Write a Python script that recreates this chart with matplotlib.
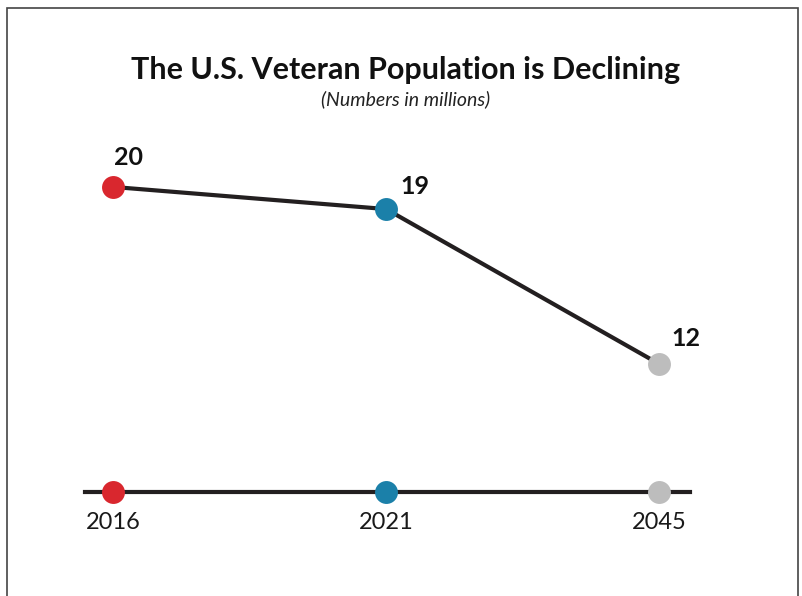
import matplotlib
matplotlib.use("Agg")
import matplotlib.pyplot as plt
from matplotlib.patches import Rectangle

plt.rcParams['font.family'] = ['Lato', 'DejaVu Sans']

years = ["2016", "2021", "2045"]
veterans_millions = [20, 19, 12]
point_colors = ["#d9272e", "#1b80a9", "#bdbdbd"]
LINE_COLOR = "#231f20"

# value label offsets in points (dx, dy)
label_offsets = [(11, 21), (21, 16), (19, 18)]

TIMELINE_Y = 6.2

fig = plt.figure(figsize=(8.03, 5.96), dpi=100)
ax = fig.add_axes([0, 0, 1, 1])
ax.set_xlim(-0.414, 2.527)
ax.set_ylim(1.51, 28.45)
ax.axis("off")

xs = list(range(len(years)))

# trend line with coloured points
ax.plot(xs, veterans_millions, color=LINE_COLOR, lw=3, zorder=2, solid_capstyle="round")
for x, v, c, off in zip(xs, veterans_millions, point_colors, label_offsets):
    ax.plot(x, v, "o", ms=16.5, color=c, mec="none", zorder=3)
    ax.annotate(str(v), (x, v), xytext=off, textcoords="offset points",
                ha="center", va="center", fontsize=18, fontweight="bold", color="#111111")

# timeline along the bottom
ax.plot([-0.103, 2.114], [TIMELINE_Y, TIMELINE_Y], color=LINE_COLOR, lw=3, zorder=2)
for x, c, yr in zip(xs, point_colors, years):
    ax.plot(x, TIMELINE_Y, "o", ms=16.5, color=c, mec="none", zorder=3)
    ax.annotate(yr, (x, TIMELINE_Y), xytext=(0, -22), textcoords="offset points",
                ha="center", va="center", fontsize=17, color="#1a1a1a")

fig.text(0.505, 0.883, "The U.S. Veteran Population is Declining", ha="center", va="center",
         fontsize=22, fontweight="bold", color="#111111")
fig.text(0.505, 0.834, "(Numbers in millions)", ha="center", va="center",
         fontsize=14, style="italic", color="#222222")

# frame around the graphic, open at the bottom
fig.patches.append(Rectangle((7 / 803, -0.05), 791 / 803, 1.05 - 8 / 596,
                             transform=fig.transFigure, fill=False,
                             edgecolor="#444444", lw=1.2))

fig.savefig("out.png", dpi=100)
